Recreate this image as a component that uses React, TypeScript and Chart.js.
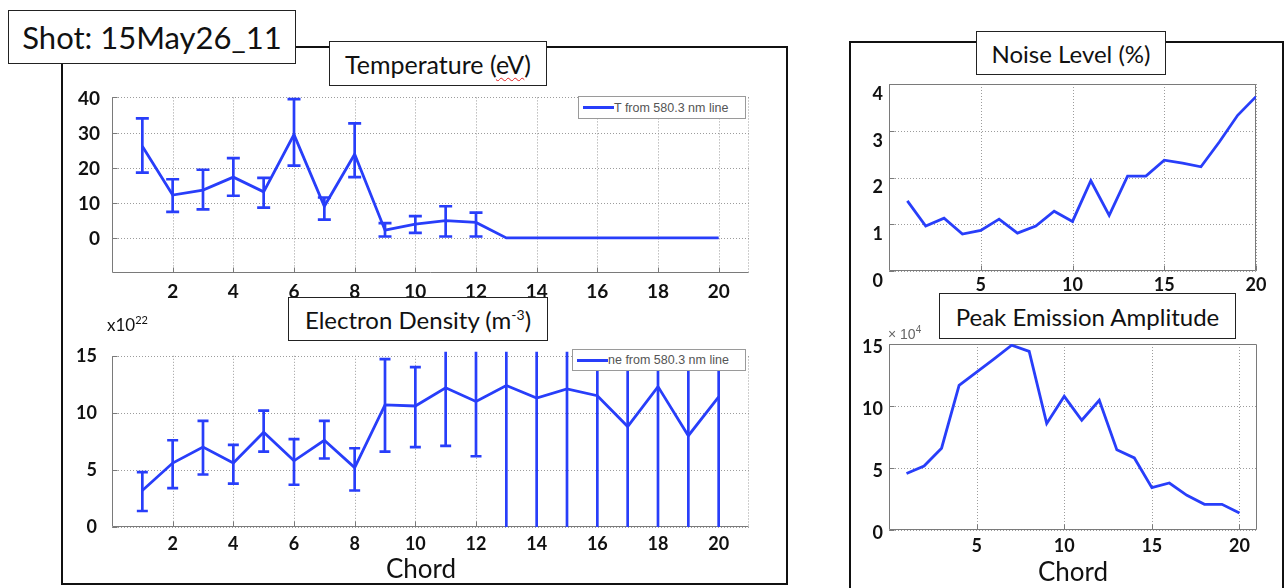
import React, { useEffect, useRef } from "react";
import { Chart, registerables } from "chart.js";

Chart.register(...registerables);

// ---------------- data ----------------
const chords = [1, 2, 3, 4, 5, 6, 7, 8, 9, 10, 11, 12, 13, 14, 15, 16, 17, 18, 19, 20];

const tempLabel = "T from 580.3 nm line";
const tempEv = [26.1, 12.2, 13.6, 17.3, 13.1, 29.4, 9.0, 23.8, 2.2, 3.9, 4.9, 4.4, 0, 0, 0, 0, 0, 0, 0, 0];
const tempHi = [34.0, 16.7, 19.4, 22.7, 17.1, 39.5, 11.5, 32.6, 4.2, 6.2, 9.0, 7.2, null, null, null, null, null, null, null, null];
const tempLo = [18.6, 7.4, 8.1, 12.0, 8.6, 20.6, 5.2, 17.3, 0.4, 1.4, 0.4, 0.4, null, null, null, null, null, null, null, null];
const tempXTicks = [2, 4, 6, 8, 10, 12, 14, 16, 18, 20];
const tempYTicks = [0, 10, 20, 30, 40];

const neLabel = "ne from 580.3 nm line";
const neVal = [3.2, 5.6, 7.0, 5.6, 8.3, 5.8, 7.6, 5.2, 10.7, 10.6, 12.2, 11.0, 12.4, 11.3, 12.1, 11.5, 8.8, 12.3, 8.0, 11.4];
const neHi = [4.8, 7.6, 9.3, 7.2, 10.2, 7.7, 9.3, 6.9, 14.7, 14.0, 17.3, 15.8, 28, 27, 29, 30, 26, 31, 27, 29];
const neLo = [1.4, 3.4, 4.6, 3.8, 6.6, 3.7, 6.0, 3.2, 6.6, 7.0, 7.1, 6.2, -3, -4, -5, -7, -8, -6, -11, -7];
const neXTicks = [2, 4, 6, 8, 10, 12, 14, 16, 18, 20];
const neYTicks = [0, 5, 10, 15];

const noisePct = [1.5, 0.96, 1.13, 0.79, 0.87, 1.11, 0.81, 0.96, 1.28, 1.06, 1.93, 1.19, 2.03, 2.03, 2.37, 2.31, 2.23, 2.76, 3.33, 3.73];
const noiseXTicks = [5, 10, 15, 20];
const noiseYTicks = [0, 1, 2, 3, 4];

const peakAmp = [4.55, 5.16, 6.6, 11.67, 12.74, 13.8, 14.9, 14.4, 8.58, 10.78, 8.85, 10.46, 6.48, 5.81, 3.42, 3.79, 2.8, 2.07, 2.07, 1.37];
const peakXTicks = [5, 10, 15, 20];
const peakYTicks = [0, 5, 10, 15];

// ---------------- styling ----------------
const BLUE = "rgb(40, 62, 250)";
const FONT = "Lato, 'Open Sans', sans-serif";

type Rect = { x: number; y: number; w: number; h: number };
type Plot = { l: number; t: number; r: number; b: number };

type PanelProps = {
  box: Rect;
  plot: Plot;
  xMin: number;
  xMax: number;
  yMin: number;
  yMax: number;
  xTicks: number[];
  yTicks: number[];
  values: number[];
  label: string;
  hi?: (number | null)[];
  lo?: (number | null)[];
  frameTop: "solid" | "dot" | "none";
  frameRight: "solid" | "dot" | "none";
  yPad: number;
  xPad: number;
  yLabelOffset: number;
  tickSize: number;
  capHalf?: number;
};

function Panel(p: PanelProps) {
  const ref = useRef<HTMLCanvasElement>(null);
  useEffect(() => {
    const canvas = ref.current;
    if (!canvas) return;

    const gridFrame = {
      id: "gridFrame",
      beforeDatasetsDraw(chart: any) {
        const { ctx, chartArea: a, scales } = chart;
        const xs = scales.x;
        const ys = scales.y;
        ctx.save();
        ctx.strokeStyle = "#9c9c9c";
        ctx.lineWidth = 1;
        ctx.setLineDash([1, 2]);
        for (const v of p.xTicks) {
          const px = Math.round(xs.getPixelForValue(v)) + 0.5;
          ctx.beginPath();
          ctx.moveTo(px, a.top);
          ctx.lineTo(px, a.bottom);
          ctx.stroke();
        }
        for (const v of p.yTicks) {
          const py = Math.round(ys.getPixelForValue(v)) + 0.5;
          ctx.beginPath();
          ctx.moveTo(a.left, py);
          ctx.lineTo(a.right, py);
          ctx.stroke();
        }
        const L = Math.round(a.left) + 0.5;
        const R = Math.round(a.right) - 0.5;
        const T = Math.round(a.top) + 0.5;
        const B = Math.round(a.bottom) - 0.5;
        const side = (x1: number, y1: number, x2: number, y2: number, st: string) => {
          if (st === "none") return;
          ctx.setLineDash(st === "dot" ? [1, 2] : []);
          ctx.strokeStyle = st === "dot" ? "#9c9c9c" : "#7a7a7a";
          ctx.beginPath();
          ctx.moveTo(x1, y1);
          ctx.lineTo(x2, y2);
          ctx.stroke();
        };
        side(L, T, R, T, p.frameTop);
        side(R, T, R, B, p.frameRight);
        side(L, T, L, B, "solid");
        side(L, B, R, B, "solid");
        // small inward tick marks
        ctx.setLineDash([]);
        ctx.strokeStyle = "#7a7a7a";
        ctx.beginPath();
        for (const v of p.yTicks) {
          const py = Math.round(ys.getPixelForValue(v)) + 0.5;
          ctx.moveTo(L, py);
          ctx.lineTo(L + 5, py);
        }
        for (const v of p.xTicks) {
          const px = Math.round(xs.getPixelForValue(v)) + 0.5;
          ctx.moveTo(px, B);
          ctx.lineTo(px, B - 5);
        }
        ctx.stroke();
        ctx.restore();
      },
    };

    const errBars = {
      id: "errBars",
      afterDatasetsDraw(chart: any) {
        if (!p.hi || !p.lo) return;
        const { ctx, chartArea: a, scales } = chart;
        const xs = scales.x;
        const ys = scales.y;
        const cap = p.capHalf ?? 6;
        ctx.save();
        ctx.beginPath();
        ctx.rect(a.left - 20, a.top - 4, a.right - a.left + 40, a.bottom - a.top + 4);
        ctx.clip();
        ctx.strokeStyle = BLUE;
        ctx.lineWidth = 2.7;
        ctx.lineCap = "butt";
        chords.forEach((c, i) => {
          const h = p.hi![i];
          const l = p.lo![i];
          if (h == null || l == null) return;
          const x = xs.getPixelForValue(c);
          const yh = ys.getPixelForValue(h);
          const yl = ys.getPixelForValue(l);
          ctx.beginPath();
          ctx.moveTo(x, yh);
          ctx.lineTo(x, yl);
          ctx.moveTo(x - cap, yh);
          ctx.lineTo(x + cap, yh);
          ctx.moveTo(x - cap, yl);
          ctx.lineTo(x + cap, yl);
          ctx.stroke();
        });
        ctx.restore();
      },
    };

    const chart = new Chart(canvas, {
      type: "line",
      data: {
        datasets: [
          {
            label: p.label,
            data: chords.map((c, i) => ({ x: c, y: p.values[i] })),
            borderColor: BLUE,
            backgroundColor: BLUE,
            borderWidth: 2.8,
            pointRadius: 0,
            fill: false,
            tension: 0,
          },
        ],
      },
      options: {
        animation: false,
        responsive: false,
        maintainAspectRatio: false,
        layout: {
          padding: {
            top: p.plot.t - p.box.y,
            right: p.box.x + p.box.w - p.plot.r,
            left: 0,
            bottom: 0,
          },
        },
        plugins: { legend: { display: false }, tooltip: { enabled: false }, title: { display: false } },
        scales: {
          x: {
            type: "linear",
            min: p.xMin,
            max: p.xMax,
            afterBuildTicks: (s: any) => {
              s.ticks = p.xTicks.map((v) => ({ value: v }));
            },
            afterFit: (s: any) => {
              s.height = p.box.y + p.box.h - p.plot.b;
            },
            grid: { display: false, drawTicks: false },
            border: { display: false },
            ticks: {
              padding: p.xPad,
              color: "#111",
              font: { family: FONT, size: p.tickSize, weight: "bold" },
              maxRotation: 0,
              autoSkip: false,
            },
          },
          y: {
            type: "linear",
            min: p.yMin,
            max: p.yMax,
            afterBuildTicks: (s: any) => {
              s.ticks = p.yTicks.map((v) => ({ value: v }));
            },
            afterFit: (s: any) => {
              s.width = p.plot.l - p.box.x;
            },
            grid: { display: false, drawTicks: false },
            border: { display: false },
            ticks: {
              padding: p.yPad,
              labelOffset: p.yLabelOffset,
              color: "#111",
              font: { family: FONT, size: p.tickSize, weight: "bold" },
              autoSkip: false,
              callback: (v: any) => String(v),
            },
          },
        },
      } as any,
      plugins: [gridFrame, errBars],
    } as any);
    return () => chart.destroy();
  }, []);
  return (
    <canvas
      ref={ref}
      width={p.box.w}
      height={p.box.h}
      style={{ position: "absolute", left: p.box.x, top: p.box.y, width: p.box.w, height: p.box.h }}
    />
  );
}

const titleBox = (x: number, y: number, w: number, h: number, size: number): React.CSSProperties => ({
  position: "absolute",
  left: x,
  top: y,
  width: w,
  height: h,
  boxSizing: "border-box",
  border: "1.5px solid #222",
  background: "#fff",
  display: "flex",
  alignItems: "center",
  justifyContent: "center",
  fontFamily: FONT,
  fontSize: size,
  color: "#111",
  whiteSpace: "nowrap",
});

function Legend({ x, y, w, h, text }: { x: number; y: number; w: number; h: number; text: string }) {
  return (
    <div
      style={{
        position: "absolute",
        left: x,
        top: y,
        width: w,
        height: h,
        boxSizing: "border-box",
        border: "1px solid #9a9a9a",
        background: "#fff",
        display: "flex",
        alignItems: "center",
        fontFamily: "'Liberation Sans', Arial, sans-serif",
        fontSize: 12.5,
        color: "#555",
        whiteSpace: "nowrap",
        overflow: "hidden",
      }}
    >
      <span style={{ display: "inline-block", width: 31, height: 3, background: BLUE, marginLeft: 4 }} />
      <span>{text}</span>
    </div>
  );
}

export default function App() {
  useEffect(() => {
    document.body.style.margin = "0";
  }, []);
  return (
    <div
      style={{
        position: "relative",
        width: 1285,
        height: 588,
        background: "#fff",
        overflow: "hidden",
        fontFamily: FONT,
      }}
    >
      {/* outer frames */}
      <div
        style={{
          position: "absolute",
          left: 61,
          top: 46,
          width: 727,
          height: 539,
          boxSizing: "border-box",
          border: "2px solid #111",
        }}
      />
      <div
        style={{
          position: "absolute",
          left: 849,
          top: 41,
          width: 435,
          height: 600,
          boxSizing: "border-box",
          border: "2px solid #111",
        }}
      />

      <Panel
        box={{ x: 62, y: 74, w: 708, h: 231 }}
        plot={{ l: 112, t: 92, r: 749, b: 273 }}
        xMin={0}
        xMax={21}
        yMin={-10}
        yMax={40}
        xTicks={tempXTicks}
        yTicks={tempYTicks}
        values={tempEv}
        label={tempLabel}
        hi={tempHi}
        lo={tempLo}
        frameTop="none"
        frameRight="dot"
        yPad={12}
        xPad={7}
        yLabelOffset={1}
        tickSize={19}
        capHalf={6.5}
      />
      <Panel
        box={{ x: 62, y: 330, w: 708, h: 230 }}
        plot={{ l: 112, t: 350, r: 749, b: 527 }}
        xMin={0}
        xMax={21}
        yMin={0}
        yMax={15}
        xTicks={neXTicks}
        yTicks={neYTicks}
        values={neVal}
        label={neLabel}
        hi={neHi}
        lo={neLo}
        frameTop="none"
        frameRight="dot"
        yPad={15}
        xPad={6}
        yLabelOffset={0}
        tickSize={18}
        capHalf={5.5}
      />
      <Panel
        box={{ x: 852, y: 66, w: 428, h: 234 }}
        plot={{ l: 889, t: 84, r: 1256, b: 271 }}
        xMin={0}
        xMax={20}
        yMin={0}
        yMax={4}
        xTicks={noiseXTicks}
        yTicks={noiseYTicks}
        values={noisePct}
        label="Noise Level (%)"
        frameTop="solid"
        frameRight="solid"
        yPad={6}
        xPad={3}
        yLabelOffset={10}
        tickSize={18}
      />
      <Panel
        box={{ x: 852, y: 325, w: 428, h: 235 }}
        plot={{ l: 889, t: 344, r: 1257, b: 530 }}
        xMin={0}
        xMax={21}
        yMin={0}
        yMax={15}
        xTicks={peakXTicks}
        yTicks={peakYTicks}
        values={peakAmp}
        label="Peak Emission Amplitude"
        frameTop="solid"
        frameRight="solid"
        yPad={6}
        xPad={5}
        yLabelOffset={3}
        tickSize={18}
      />

      {/* titles */}
      <div style={titleBox(8, 10, 288, 54, 31)}>Shot: 15May26_11</div>
      <div style={titleBox(329, 41, 218, 45, 25)}>
        <span>
          Temperature (
          <span style={{ textDecoration: "underline wavy #e02020", textDecorationThickness: "1px", textUnderlineOffset: "3px" }}>eV</span>)
        </span>
      </div>
      <div style={titleBox(288, 297, 260, 44, 24)}>
        <span>
          Electron Density (m<sup style={{ fontSize: 14, verticalAlign: "9px", lineHeight: 0 }}>-3</sup>)
        </span>
      </div>
      <div style={titleBox(976, 31, 190, 44, 24)}>Noise Level (%)</div>
      <div style={titleBox(939, 293, 297, 46, 24)}>Peak Emission Amplitude</div>

      {/* legends */}
      <Legend x={578} y={96} w={168} h={23} text={tempLabel} />
      <Legend x={572} y={349} w={174} h={22} text={neLabel} />

      {/* exponent labels */}
      <div style={{ position: "absolute", left: 107, top: 315, fontSize: 17, lineHeight: "20px", color: "#111" }}>
        x10<sup style={{ fontSize: 11, verticalAlign: "7px", lineHeight: 0 }}>22</sup>
      </div>
      <div
        style={{
          position: "absolute",
          left: 888,
          top: 326,
          fontSize: 14,
          lineHeight: "16px",
          color: "#666",
          fontFamily: "'Liberation Sans', Arial, sans-serif",
        }}
      >
        × 10<sup style={{ fontSize: 10, verticalAlign: "6px", lineHeight: 0 }}>4</sup>
      </div>

      {/* axis titles */}
      <div style={{ position: "absolute", left: 361, width: 120, top: 552, textAlign: "center", fontSize: 26, lineHeight: "32px", color: "#111" }}>
        Chord
      </div>
      <div style={{ position: "absolute", left: 1013, width: 120, top: 555, textAlign: "center", fontSize: 26, lineHeight: "32px", color: "#111" }}>
        Chord
      </div>
    </div>
  );
}
